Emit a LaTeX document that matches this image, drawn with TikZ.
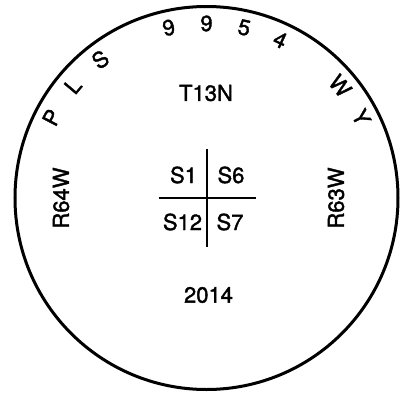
\documentclass[tikz,border=0pt]{standalone}
\usepackage{fontspec}
\newfontfamily\plotfont{TeX Gyre Heros}[FakeBold=1.6]
\usetikzlibrary{positioning}

\begin{document}
\begin{tikzpicture}[x=1pt,y=1pt,
    lbl/.style={inner sep=0pt,font=\plotfont\fontsize{22}{24}\selectfont},
    ring/.style={line width=3pt},
    cross/.style={line width=2pt}]
  \useasboundingbox (-206.5,-194) rectangle (200.5,198);
  % outer circle
  \draw[ring] (0,0) circle (191.5);
  % lettering round the top of the ring
  \foreach \ch/\ang [count=\i] in {P/152.5,L/140,S/127.5,9/102.5,9/90,5/77.5,4/65,W/40,Y/27.5}
    \node[lbl,rotate=\ang-90] (arc\i) at (\ang:174.5) {\ch};
  % township and range
  \node[lbl] (town) at (-0.5,105) {T13N};
  \node[lbl,rotate=90] (rwest) at (-145.5,0) {R64W};
  \node[lbl,rotate=90] (reast) at (129.5,0) {R63W};
  \node[lbl] (year) at (2,-97) {2014};
  % section corner
  \coordinate (ctop) at (0.5,49);
  \coordinate (cbot) at (0.5,-49);
  \coordinate (cleft) at (-47.5,0);
  \coordinate (cright) at (49.5,0);
  \draw[cross] (ctop) -- (cbot);
  \draw[cross] (cleft) -- (cright);
  \node[lbl] (s1) at (-23,23) {S1};
  \node[lbl] (s6) at (24.5,23) {S6};
  \node[lbl] (s12) at (-24,-24) {S12};
  \node[lbl] (s7) at (23.5,-24) {S7};
\end{tikzpicture}
\end{document}
